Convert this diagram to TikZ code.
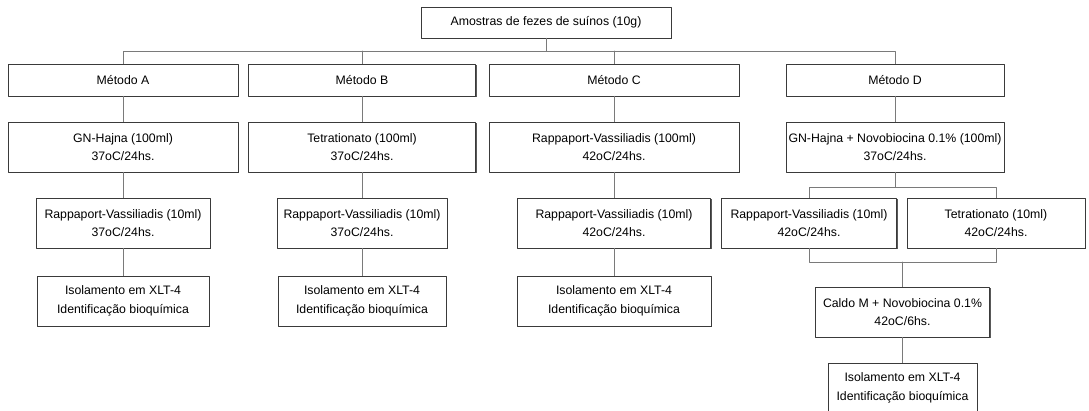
\documentclass[tikz,border=0pt]{standalone}
\usepackage{fontspec}
\setmainfont{Liberation Sans}
\usetikzlibrary{shadows}
\definecolor{BoxLine}{HTML}{3A3A3A}
\definecolor{LinkGray}{HTML}{7A7A7A}

\begin{document}
\begin{tikzpicture}[x=1pt,y=-1pt,line cap=round,line join=round,
  box/.style={draw=BoxLine,fill=white,line width=0.7pt,align=center,inner sep=1pt,
    font=\fontsize{12.3}{18.5}\selectfont,
    drop shadow={shadow xshift=1.1pt,shadow yshift=-1.3pt,fill=black!65,opacity=1}},
  link/.style={draw=LinkGray,line width=0.7pt}]
  \useasboundingbox[fill=white] (0,0) rectangle (1089,411);
  \coordinate (bus) at (0,51); \coordinate (split) at (0,187); \coordinate (merge) at (0,262);
  % amostra
  \node[box,minimum width=250,minimum height=31] (top) at (546,22.5) {Amostras de fezes de suínos (10g)};
  % metodos
  \node[box,minimum width=230,minimum height=32] (mA) at (123,80) {Método A};
  \node[box,minimum width=227,minimum height=32] (mB) at (362,80) {Método B};
  \node[box,minimum width=250,minimum height=32] (mC) at (614,80) {Método C};
  \node[box,minimum width=218,minimum height=32] (mD) at (895,80) {Método D};
  % pre-enriquecimento
  \node[box,minimum width=230,minimum height=50] (gA) at (123,147) {GN-Hajna (100ml)\\37oC/24hs.};
  \node[box,minimum width=227,minimum height=50] (gB) at (362,147) {Tetrationato (100ml)\\37oC/24hs.};
  \node[box,minimum width=250,minimum height=50] (gC) at (614,147) {Rappaport-Vassiliadis (100ml)\\42oC/24hs.};
  \node[box,minimum width=218,minimum height=50] (gD) at (895,147) {GN-Hajna + Novobiocina 0.1\% (100ml)\\37oC/24hs.};
  % enriquecimento
  \node[box,minimum width=174,minimum height=50] (rA) at (123,223) {Rappaport-Vassiliadis (10ml)\\37oC/24hs.};
  \node[box,minimum width=170,minimum height=50] (rB) at (362,223) {Rappaport-Vassiliadis (10ml)\\37oC/24hs.};
  \node[box,minimum width=193,minimum height=50] (rC) at (614,223) {Rappaport-Vassiliadis (10ml)\\42oC/24hs.};
  \node[box,minimum width=175,minimum height=50] (rD) at (809,223) {Rappaport-Vassiliadis (10ml)\\42oC/24hs.};
  \node[box,minimum width=178,minimum height=50] (tD) at (996,223) {Tetrationato (10ml)\\42oC/24hs.};
  % isolamento
  \foreach \m/\x/\w in {A/123/172,B/362/168,C/614/194}{
    \node[box,minimum width=\w,minimum height=50] (i\m) at (\x,301) {Isolamento em XLT-4\\Identificação bioquímica};}
  \node[box,minimum width=174,minimum height=50] (caldo) at (902.5,312) {Caldo M + Novobiocina 0.1\%\\42oC/6hs.};
  \node[box,minimum width=149,minimum height=50] (iD) at (902.5,388) {Isolamento em XLT-4\\Identificação bioquímica};
  % ligacoes
  \draw[link] (top.south) -- (top.south |- bus);
  \draw[link] (mA.north) -- (mA.north |- bus) -| (mD.north);
  \draw[link] (mB.north) -- (mB.north |- bus); \draw[link] (mC.north) -- (mC.north |- bus);
  \foreach \m in {A,B,C}{
    \draw[link] (m\m.south) -- (g\m.north); \draw[link] (g\m.south) -- (r\m.north); \draw[link] (r\m.south) -- (i\m.north);}
  \draw[link] (mD.south) -- (gD.north); \draw[link] (gD.south) -- (gD.south |- split);
  \draw[link] (rD.north) -- (rD.north |- split) -| (tD.north);
  \draw[link] (rD.south) -- (rD.south |- merge) -| (tD.south);
  \draw[link] (caldo.north |- merge) -- (caldo.north); \draw[link] (caldo.south) -- (iD.north);
\end{tikzpicture}
\end{document}
